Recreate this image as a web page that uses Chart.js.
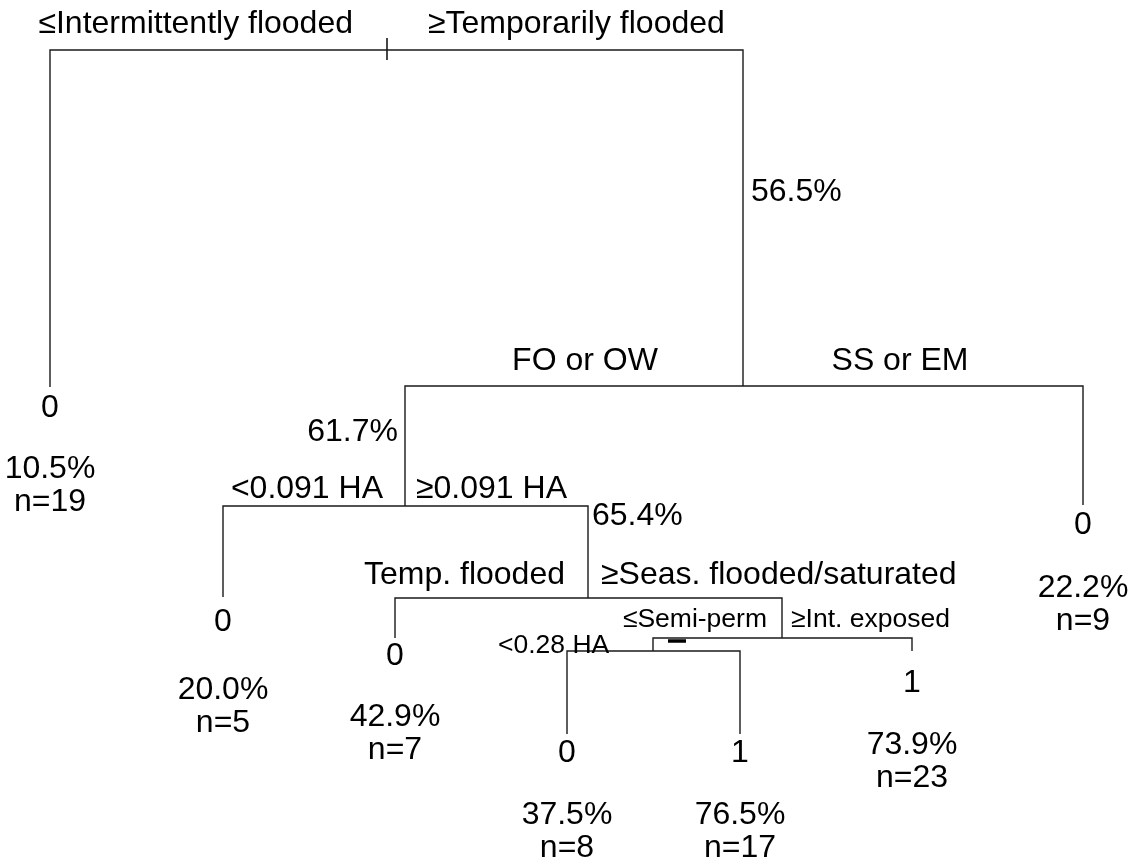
<!DOCTYPE html>
<html>
<head>
<meta charset="utf-8">
<title>Classification tree</title>
<script src="https://cdn.jsdelivr.net/npm/chart.js@4.4.1/dist/chart.umd.min.js"></script>
<style>
  html, body { margin: 0; padding: 0; background: #fff; }
  #wrap { width: 1130px; height: 867px; }
</style>
</head>
<body>
<div id="wrap"><canvas id="tree" width="1130" height="867"></canvas></div>
<script>
// splits (internal nodes) and the two children of each
const splitNames = ['root', 'n2', 'n3', 'n4', 'n5', 'n6'];
const splitLeft = ['A', 'n3', 'B', 'C', 'n6', 'D'];
const splitRight = ['n2', 'H', 'n4', 'n5', 'F', 'E'];
const splitLeftLabel = ['≤Intermittently flooded', 'FO or OW', '<0.091 HA', 'Temp. flooded', '≤Semi-perm', '<0.28 HA'];
const splitRightLabel = ['≥Temporarily flooded', 'SS or EM', '≥0.091 HA', '≥Seas. flooded/saturated', '≥Int. exposed', ''];
const splitPct = ['', '56.5%', '61.7%', '65.4%', '', ''];

// leaves (terminal nodes)
const leafNames = ['A', 'B', 'C', 'D', 'E', 'F', 'H'];
const leafClass = ['0', '0', '0', '0', '1', '1', '0'];
const leafPct = ['10.5%', '20.0%', '42.9%', '37.5%', '76.5%', '73.9%', '22.2%'];
const leafN = ['n=19', 'n=5', 'n=7', 'n=8', 'n=17', 'n=23', 'n=9'];

// tree layout in plot units (x across, y = depth downward)
const nodeX = { A: 50, n2: 743, n3: 405, H: 1083, B: 223, n4: 588, C: 395, n5: 782, n6: 653, F: 912, D: 567, E: 740 };
const nodeY = { root: 50, n2: 386, n3: 506, n4: 598, n5: 638, n6: 651, A: 387, H: 505, B: 597, C: 638, D: 734, E: 734, F: 651 };
const leafLabelY = { A: 408, H: 525, B: 622, C: 656, D: 753, E: 753, F: 683 };
const leafPctGap = { A: 61, H: 63, B: 68, C: 61, D: 62, E: 62, F: 62 };

const lineColor = '#1a1a1a';
const bigFont = '32px "Liberation Sans", Arial, sans-serif';
const smallFont = '26.5px "Liberation Sans", Arial, sans-serif';

// one polyline per split: left child up, across, right child down
const datasets = splitNames.map((s, i) => {
  const l = splitLeft[i], r = splitRight[i];
  return {
    data: [
      { x: nodeX[l], y: nodeY[l] },
      { x: nodeX[l], y: nodeY[s] },
      { x: nodeX[r], y: nodeY[s] },
      { x: nodeX[r], y: nodeY[r] }
    ],
    showLine: true,
    borderColor: lineColor,
    borderWidth: 1.4,
    pointRadius: 0,
    tension: 0
  };
});

// little split marks
datasets.push({
  data: [{ x: 387, y: 38 }, { x: 387, y: 60 }],
  showLine: true, borderColor: lineColor, borderWidth: 1.6, pointRadius: 0
});
datasets.push({
  data: [{ x: 668, y: 641 }, { x: 686, y: 641 }],
  showLine: true, borderColor: '#000', borderWidth: 3.5, pointRadius: 0
});

// where each split / percent label goes: [x, y, align, font]
const splitLabelPos = {
  root: [[353, 24, 'right', bigFont], [428, 24, 'left', bigFont]],
  n2: [[585, 361, 'center', bigFont], [900, 361, 'center', bigFont]],
  n3: [[383, 489, 'right', bigFont], [416, 489, 'left', bigFont]],
  n4: [[565, 575, 'right', bigFont], [601, 575, 'left', bigFont]],
  n5: [[767, 620, 'right', smallFont], [791, 620, 'left', smallFont]],
  n6: [[498, 646, 'left', smallFont], [0, 0, 'left', smallFont]]
};
const pctPos = { n2: [751, 192, 'left'], n3: [398, 432, 'right'], n4: [592, 516, 'left'] };

const treeText = {
  id: 'treeText',
  afterDatasetsDraw(chart) {
    const ctx = chart.ctx;
    const xs = chart.scales.x, ys = chart.scales.y;
    const put = (txt, x, y, align, font) => {
      if (!txt) return;
      ctx.font = font;
      ctx.textAlign = align;
      ctx.fillText(txt, xs.getPixelForValue(x), ys.getPixelForValue(y));
    };
    ctx.save();
    ctx.fillStyle = '#000';
    ctx.textBaseline = 'middle';
    splitNames.forEach((s, i) => {
      const p = splitLabelPos[s];
      put(splitLeftLabel[i], p[0][0], p[0][1], p[0][2], p[0][3]);
      put(splitRightLabel[i], p[1][0], p[1][1], p[1][2], p[1][3]);
      if (pctPos[s]) put(splitPct[i], pctPos[s][0], pctPos[s][1], pctPos[s][2], bigFont);
    });
    leafNames.forEach((l, i) => {
      const x = nodeX[l], y = leafLabelY[l], g = leafPctGap[l];
      put(leafClass[i], x, y, 'center', bigFont);
      put(leafPct[i], x, y + g, 'center', bigFont);
      put(leafN[i], x, y + g + 33, 'center', bigFont);
    });
    ctx.restore();
  }
};

new Chart(document.getElementById('tree').getContext('2d'), {
  type: 'scatter',
  data: { datasets },
  options: {
    responsive: false,
    animation: false,
    layout: { padding: 0 },
    plugins: { legend: { display: false }, tooltip: { enabled: false } },
    scales: {
      x: { display: false, min: 0, max: 1130 },
      y: { display: false, min: 0, max: 867, reverse: true }
    }
  },
  plugins: [treeText]
});
</script>
</body>
</html>
